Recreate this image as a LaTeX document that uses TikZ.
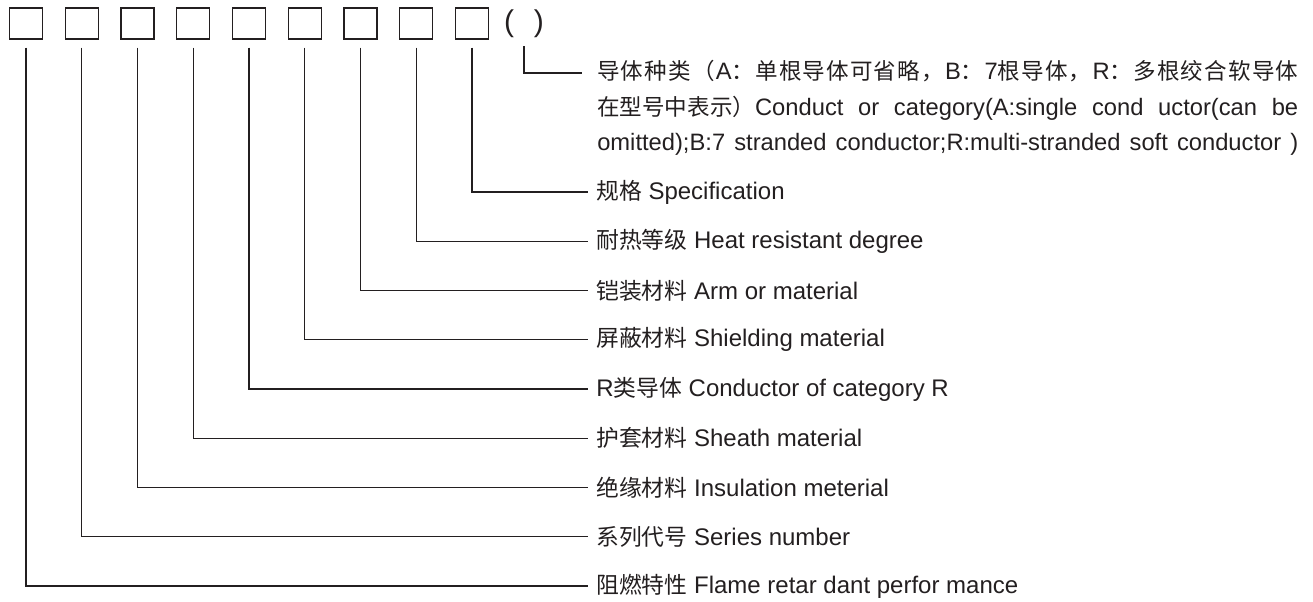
\documentclass[tikz,border=0pt]{standalone}
\usepackage{fontspec}
\setmainfont{Liberation Sans}
\newfontfamily\cjk{Noto Sans CJK SC}[Scale=0.95]
\newcommand{\zh}[1]{{\cjk #1}}
\def\spreadchars#1{\ifx\relax#1\else#1\hskip0pt plus 1pt\expandafter\spreadchars\fi}
\newcommand{\zs}[1]{{\cjk\spreadchars#1\relax}}
\definecolor{ink}{HTML}{231F20}
\tikzset{
  codebox/.style={draw=ink, line width=0.9pt, minimum width=24.75pt, minimum height=23.25pt, inner sep=0pt},
  lab/.style={anchor=west, inner xsep=6pt, inner ysep=0pt, text=ink, font=\fontsize{18}{22}\selectfont},
  catline/.style={anchor=base west, inner sep=0pt, text=ink, font=\fontsize{17.8}{22}\selectfont},
  conn/.style={draw=ink, line width=1pt, shorten <=6pt}
}
\newcommand{\fullline}[1]{\makebox[525.75pt][s]{#1}}

\begin{document}
\begin{tikzpicture}[x=0.75pt, y=-0.75pt]
\useasboundingbox (0,0) rectangle (1313,602);
\foreach \i in {1,...,9}
  \node[codebox] (b\i) at ({26+55.75*(\i-1)}, 23.5) {};
\node[text=ink, font=\fontsize{22.5}{24}\selectfont, inner sep=0pt] (par) at (524,24) {(\hspace{15pt})};
\foreach \i/\txt in {1/\zh{阻燃特性} Flame retar dant perfor mance,
                     2/\zh{系列代号} Series number,
                     3/\zh{绝缘材料} Insulation meterial,
                     4/\zh{护套材料} Sheath material,
                     5/R\zh{类导体} Conductor of category R,
                     6/\zh{屏蔽材料} Shielding material,
                     7/\zh{铠装材料} Arm or material,
                     8/\zh{耐热等级} Heat resistant degree,
                     9/\zh{规格} Specification}
  {\node[lab] (l\i) at (588, {192+49.25*(9-\i)}) {\txt};
   \draw[conn] (b\i.south) |- (l\i.west);}
\node[catline] (cat1) at (597,80)
  {\fullline{\zs{导体种类（}A\zs{：单根导体可省略，}B\zs{：}7\zs{根导体，}R\zs{：多根绞合软导}\zh{体}}};
\node[catline] (cat2) at (597,115.5)
  {\fullline{\zh{在型号中表示）}Conduct or category(A:single cond uctor(can be}};
\node[catline] (cat3) at (597,151)
  {\fullline{omitted);B:7 stranded conductor;R:multi-stranded soft conductor )}};
\coordinate (tend) at (582,73);
\draw[conn] (par.south) |- (tend);
\end{tikzpicture}
\end{document}
